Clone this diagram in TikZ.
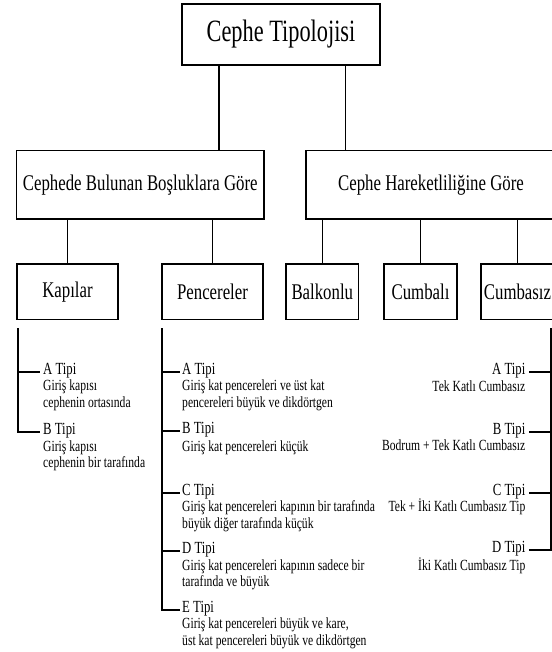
\documentclass[tikz,border=0pt]{standalone}
\usepackage{fontspec}
\setmainfont{Liberation Serif}[FakeStretch=0.75]
\newfontfamily\titlefont{Liberation Serif}[FakeStretch=0.72]
\usepackage{tikz}

\begin{document}
\begin{tikzpicture}[x=1pt,y=-1pt,
  box/.style={draw=black,line width=1.4pt,inner sep=0pt,font=\fontsize{22.4}{25}\selectfont},
  link/.style={line width=1.2pt},
  brace/.style={line width=1.7pt},
  tipi/.style={inner sep=0pt,font=\fontsize{17}{19}\selectfont},
  desc/.style={inner sep=0pt,font=\fontsize{15.5}{16.5}\selectfont}]
\useasboundingbox (0,0) rectangle (551,652);

\node[box,minimum width=198pt,minimum height=61pt,font=\titlefont\fontsize{31}{34}\selectfont] (root) at (281,34.5) {Cephe Tipolojisi};
\node[box,minimum width=247.5pt,minimum height=68.5pt] (bosluk) at (140.25,184.75) {Cephede Bulunan Boşluklara Göre};
\node[box,minimum width=250pt,minimum height=68.5pt] (hareket) at (431,184.75) {Cephe Hareketliliğine Göre};
\node[box,minimum width=101pt,minimum height=55.5pt] (kapi) at (67.5,291.75) {Kapılar};
\node[box,minimum width=101pt,minimum height=55.5pt] (pencere) at (212.5,291.75) {Pencereler};
\node[box,minimum width=72.7pt,minimum height=55.5pt] (balkon) at (322.3,291.75) {Balkonlu};
\node[box,minimum width=73pt,minimum height=55.5pt] (cumbali) at (420.5,291.75) {Cumbalı};
\node[box,minimum width=73pt,minimum height=55.5pt] (cumbasiz) at (517.5,291.75) {Cumbasız};

\draw[link] ([xshift=-62pt]root.south) -- ([xshift=-62pt]root.south |- bosluk.north);
\draw[link] ([xshift=64.7pt]root.south) -- ([xshift=64.7pt]root.south |- hareket.north);
\draw[link] (kapi.north) -- (kapi.north |- bosluk.south);
\draw[link] (pencere.north) -- (pencere.north |- bosluk.south);
\draw[link] (balkon.north) -- (balkon.north |- hareket.south);
\draw[link] (cumbali.north) -- (cumbali.north |- hareket.south);
\draw[link] (cumbasiz.north) -- (cumbasiz.north |- hareket.south);

% Kapilar (two-line texts sit on their last baseline)
\node[tipi,anchor=base west] (kA) at (43,374) {A Tipi};
\node[desc,anchor=base west,align=left] (kAd) at (43,407) {Giriş kapısı\\cephenin ortasında};
\node[tipi,anchor=base west] (kB) at (43,434) {B Tipi};
\node[desc,anchor=base west,align=left] (kBd) at (43,467.5) {Giriş kapısı\\cephenin bir tarafında};
\coordinate (kTop) at (18,328);
\coordinate (kAt) at ([xshift=-3pt,yshift=2pt]kA.base west);
\coordinate (kBt) at ([xshift=-3pt,yshift=2pt]kB.base west);
\draw[brace] (kTop) |- (kBt);
\draw[brace] (kTop |- kAt) -- (kAt);

% Pencereler
\node[tipi,anchor=base west] (pA) at (182,374) {A Tipi};
\node[desc,anchor=base west,align=left] (pAd) at (182,407) {Giriş kat pencereleri ve üst kat\\pencereleri büyük ve dikdörtgen};
\node[tipi,anchor=base west] (pB) at (182,433) {B Tipi};
\node[desc,anchor=base west,align=left] (pBd) at (182,451) {Giriş kat pencereleri küçük};
\node[tipi,anchor=base west] (pC) at (182,495) {C Tipi};
\node[desc,anchor=base west,align=left] (pCd) at (182,528) {Giriş kat pencereleri kapının bir tarafında\\büyük diğer tarafında küçük};
\node[tipi,anchor=base west] (pD) at (182,553) {D Tipi};
\node[desc,anchor=base west,align=left] (pDd) at (182,586.5) {Giriş kat pencereleri kapının sadece bir\\tarafında ve büyük};
\node[tipi,anchor=base west] (pE) at (182,612) {E Tipi};
\node[desc,anchor=base west,align=left] (pEd) at (182,645) {Giriş kat pencereleri büyük ve kare,\\üst kat pencereleri büyük ve dikdörtgen};
\coordinate (pTop) at (161.7,328);
\foreach \t in {pA,pB,pC,pD}{
  \coordinate (\t t) at ([xshift=-2pt,yshift=2pt]\t.base west);
  \draw[brace] (pTop |- \t t) -- (\t t);
}
\coordinate (pEt) at ([xshift=-2pt,yshift=2pt]pE.base west);
\draw[brace] (pTop) |- (pEt);

% Cumbasiz
\node[tipi,anchor=base east] (cA) at (525.5,374) {A Tipi};
\node[desc,anchor=base east,align=right] (cAd) at (525.5,391) {Tek Katlı Cumbasız};
\node[tipi,anchor=base east] (cB) at (525.5,434) {B Tipi};
\node[desc,anchor=base east,align=right] (cBd) at (525.5,450.5) {Bodrum + Tek Katlı Cumbasız};
\node[tipi,anchor=base east] (cC) at (525.5,495) {C Tipi};
\node[desc,anchor=base east,align=right] (cCd) at (525.5,511.5) {Tek + İki Katlı Cumbasız Tip};
\node[tipi,anchor=base east] (cD) at (525.5,552) {D Tipi};
\node[desc,anchor=base east,align=right] (cDd) at (525.5,570.5) {İki Katlı Cumbasız Tip};
\coordinate (cTop) at (551,328);
\foreach \t in {cA,cB,cC}{
  \coordinate (\t t) at ([xshift=3pt,yshift=2pt]\t.base east);
  \draw[brace] (cTop |- \t t) -- (\t t);
}
\coordinate (cDt) at ([xshift=3pt,yshift=2pt]cD.base east);
\draw[brace] (cTop) |- (cDt);
\end{tikzpicture}
\end{document}
